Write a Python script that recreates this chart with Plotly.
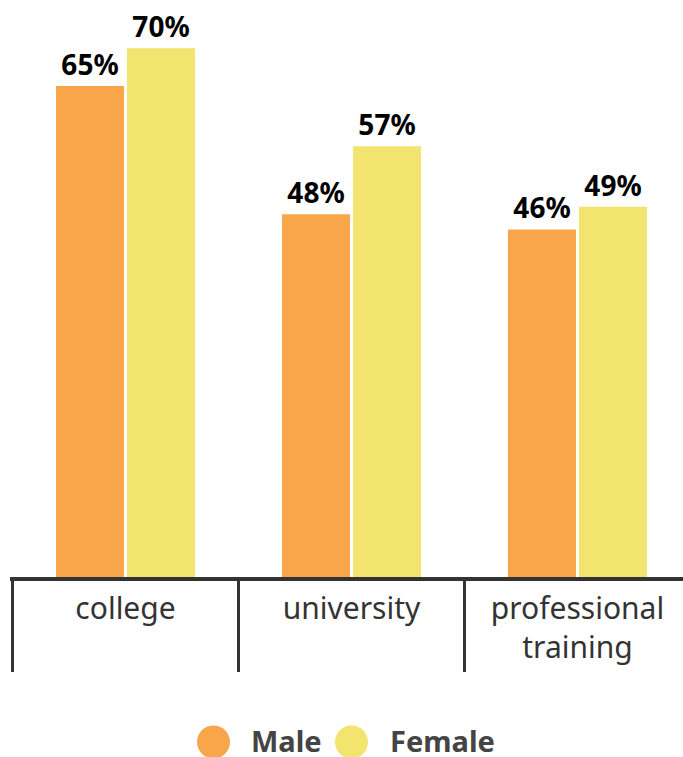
import plotly.graph_objects as go

categories = ["college", "university", "professional<br>training"]
male = [65, 48, 46]
female = [70, 57, 49]
series_names = ["Male", "Female"]
colors = ["#F9A54A", "#F2E46F"]

W, H = 683, 757
L, R, T, B = 10, 0, 10, 180
pw, ph = W - L - R, H - T - B
cat_px = 226.0
x0 = -0.5 - 2.5 / cat_px
x1 = x0 + pw / cat_px
y_max = ph / 7.555

fig = go.Figure()
for name, vals, col in zip(series_names, [male, female], colors):
    fig.add_trace(go.Bar(
        x=categories, y=vals, name=name, marker=dict(color=col, line=dict(width=0)),
        texttemplate="%{y}%", textposition="outside", cliponaxis=False,
        constraintext="none",
        textfont=dict(family="Noto Sans", size=28, color="#000000", weight="bold"),
        showlegend=False, hoverinfo="skip",
    ))

shapes = []
for i in range(len(categories)):
    shapes.append(dict(type="line", xref="x", yref="paper", x0=i - 0.5, x1=i - 0.5,
                       y0=0, y1=-(672 - 577) / ph, line=dict(color="#333333", width=3)))

# manual legend (circles + labels)
legend_items = [(213.5, 249), (351.5, 388)]
annotations = []
for (cx, tx), name, col in zip(legend_items, series_names, colors):
    cy = 742
    r = 16.5
    shapes.append(dict(type="circle", xref="paper", yref="paper",
                       x0=(cx - r - L) / pw, x1=(cx + r - L) / pw,
                       y0=(T + ph - (cy + r)) / ph, y1=(T + ph - (cy - r)) / ph,
                       fillcolor=col, line=dict(width=0)))
    annotations.append(dict(xref="paper", yref="paper", x=(tx - L) / pw, y=(T + ph - 740) / ph,
                            text=name, showarrow=False, xanchor="left", yanchor="middle",
                            font=dict(family="Noto Sans", size=29, color="#444444", weight="bold")))

fig.update_layout(
    width=W, height=H, margin=dict(l=L, r=R, t=T, b=B, pad=0),
    paper_bgcolor="white", plot_bgcolor="white",
    barmode="group", bargap=1 - 142 / 226, bargroupgap=3 / 71,
    xaxis=dict(range=[x0, x1], showline=True, linewidth=4, linecolor="#333333",
               showgrid=False, ticks="", zeroline=False, ticklabelstandoff=2,
               tickfont=dict(family="Noto Sans", size=30, color="#333333")),
    yaxis=dict(range=[0, y_max], visible=False, showgrid=False, zeroline=False),
    shapes=shapes, annotations=annotations,
    showlegend=False,
)

fig.write_html("out.html")
